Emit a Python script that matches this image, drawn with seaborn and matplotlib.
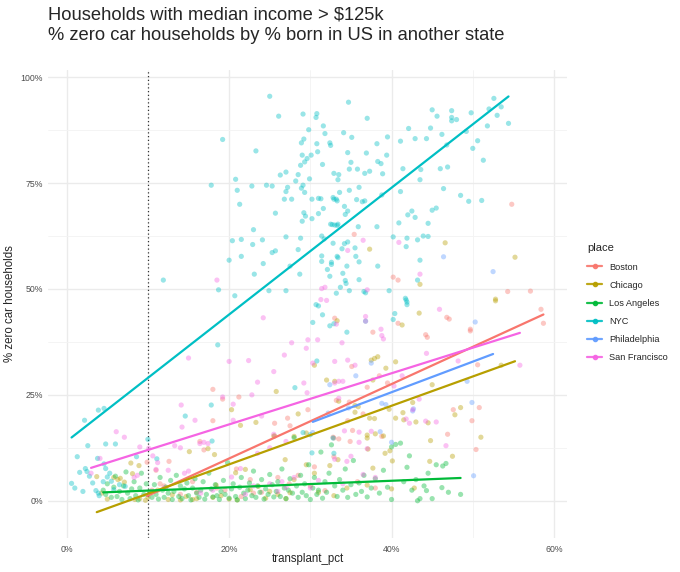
import pandas as pd
import seaborn as sns
import matplotlib.pyplot as plt
from matplotlib.lines import Line2D
from matplotlib.ticker import PercentFormatter, MultipleLocator

# values, in percent
places = ['Boston', 'Chicago', 'Los Angeles', 'NYC', 'Philadelphia', 'San Francisco']
colors = ['#F8766D', '#B79F00', '#00BA38', '#00BFC4', '#619CFF', '#F564E3']

boston_x = [54.8, 35.4, 40.2, 40.8, 54.3, 57.1, 58.4, 58.7, 46.8, 47.1, 49.7, 49.7, 44.2, 44.4, 37.7, 40.8,
            35.1, 50.6, 38.5, 50.8, 34.6, 35.2, 32.9, 33.5, 49.9, 46.9, 38.8, 34.9, 50.4, 33.0, 34.8, 18.0,
            19.2, 18.0, 21.2, 25.6, 27.2, 27.5, 29.7, 9.9, 11.0, 12.6, 32.8, 32.9, 33.2, 16.4, 16.9, 20.9,
            22.6, 27.4, 28.5, 30.0, 31.8, 14.0, 18.5, 24.0, 26.0, 35.8, 38.0, 12.0, 15.5, 21.5, 30.5, 36.5,
            37.0, 39.5, 47.6, 10.5, 16.0, 19.5, 11.5, 23.0]
boston_y = [70.0, 62.9, 52.8, 52.1, 49.4, 49.5, 45.2, 41.9, 43.3, 42.9, 40.5, 40.1, 39.2, 38.6, 39.8, 41.9,
            31.7, 32.1, 29.5, 22.0, 18.9, 16.6, 14.8, 14.6, 18.9, 15.7, 15.2, 14.0, 12.1, 43.1, 23.3, 26.3,
            24.0, 18.9, 24.5, 18.3, 19.5, 17.7, 21.5, 9.1, 7.2, 9.3, 15.0, 10.4, 23.7, 14.0, 12.0, 7.5,
            5.0, 4.0, 6.0, 3.5, 2.4, 1.5, 3.0, 2.0, 5.5, 4.5, 3.0, 3.5, 4.5, 1.0, 8.0, 20.5,
            26.8, 27.8, 21.5, 2.5, 2.0, 2.5, 4.0, 1.8]

chicago_x = [46.6, 55.2, 37.3, 43.5, 52.8, 52.8, 43.4, 33.3, 41.3, 40.5, 37.5, 37.9, 38.3, 39.3, 45.0, 53.5,
             37.7, 35.9, 35.5, 42.6, 39.7, 40.5, 41.4, 41.5, 43.0, 44.5, 47.8, 48.5, 37.3, 37.9, 37.0, 38.0,
             39.0, 37.0, 37.1, 39.2, 39.8, 40.1, 44.7, 44.8, 37.7, 37.0, 40.0, 42.8, 33.4, 32.4, 33.5, 35.5,
             20.3, 21.4, 25.8, 30.5, 32.0, 33.0, 28.5, 29.5, 28.0, 25.5, 17.4, 15.1, 18.2, 7.9, 8.9, 8.1,
             6.3, 7.1, 3.7, 4.3, 5.8, 6.6, 9.7, 8.4, 11.2, 13.0, 14.7, 18.4, 20.8, 22.0, 22.6, 23.6,
             26.9, 28.0, 29.5, 30.5, 27.5, 32.9, 25.6, 23.3, 10.0, 12.5, 16.0, 19.0, 21.0, 24.5, 26.0,
             5.0, 14.0, 15.5, 18.0, 27.0, 31.0, 34.5, 9.0, 20.0, 25.0, 47.5, 51.0]
chicago_y = [60.9, 57.5, 59.4, 51.1, 47.6, 47.2, 44.3, 42.5, 41.5, 32.8, 33.2, 33.6, 34.0, 31.3, 27.4, 32.0,
             28.5, 22.2, 20.9, 23.2, 21.6, 19.5, 20.8, 19.1, 18.6, 18.4, 20.3, 22.0, 19.5, 19.4, 15.5, 15.8,
             15.3, 14.8, 12.2, 11.2, 11.8, 9.4, 9.3, 14.2, 7.7, 3.7, 2.8, 3.0, 9.7, 8.3, 23.5, 22.5,
             21.5, 17.8, 25.8, 32.0, 28.5, 28.2, 20.5, 16.0, 15.2, 15.3, 12.3, 11.6, 10.9, 8.9, 8.3, 6.4,
             5.0, 4.4, 5.7, 1.8, 5.5, 5.3, 0.1, 0.3, 2.5, 1.4, 1.0, 3.7, 6.6, 7.4, 2.6, 3.4,
             9.7, 5.0, 8.5, 6.5, 1.9, 1.2, 15.3, 18.5, 0.8, 0.3, 0.5, 1.2, 0.2, 0.6, 1.5,
             0.4, 0.2, 0.3, 0.8, 0.5, 2.0, 3.0, 0.5, 0.4, 2.2, 10.5, 15.0]

la_x = [4.5, 4.8, 5.0, 5.5, 5.8, 6.0, 6.2, 6.5, 6.8, 7.0, 7.3, 7.5, 7.8, 8.0, 8.3, 8.5,
        8.8, 9.0, 9.2, 9.5, 9.8, 10.2, 10.5, 10.8, 11.0, 11.3, 11.5, 11.8, 12.0, 12.2, 12.5, 12.8,
        13.0, 13.2, 13.5, 13.8, 14.0, 14.2, 14.5, 14.8, 15.0, 15.3, 15.5, 15.8, 16.0, 16.3, 16.5, 16.8,
        17.0, 17.2, 17.5, 17.8, 18.0, 18.3, 18.5, 18.8, 19.0, 19.3, 19.5, 19.8, 20.0, 20.3, 20.5, 20.8,
        21.0, 21.3, 21.5, 21.8, 22.0, 22.3, 22.5, 22.8, 23.0, 23.3, 23.5, 23.8, 24.0, 24.3, 24.5, 24.8,
        25.0, 25.3, 25.5, 25.8, 26.0, 26.3, 26.5, 26.8, 27.0, 27.3, 27.5, 27.8, 28.0, 28.3, 28.5, 28.8,
        29.0, 29.3, 29.5, 29.8, 30.0, 30.3, 30.5, 30.8, 31.0, 31.3, 31.5, 31.8, 32.0, 32.3, 32.6, 33.0,
        33.3, 33.6, 34.0, 34.3, 34.6, 35.0, 35.3, 35.6, 36.0, 36.3, 36.6, 37.0, 37.5, 38.0, 38.5, 39.0,
        39.5, 40.0, 40.0, 40.5, 41.1, 41.5, 41.9, 42.2, 42.5, 43.0, 43.5, 44.0, 44.5, 45.0, 45.5, 46.3,
        46.7, 47.0, 48.5, 44.3, 43.2, 46.2]
la_y = [2.5, 1.5, 4.0, 0.8, 3.2, 5.8, 1.0, 2.2, 0.3, 3.5, 6.8, 1.8, 0.5, 2.8, 4.5, 1.2,
        0.2, 3.0, 6.5, 1.5, 4.0, 2.0, 0.8, 3.8, 1.5, 0.4, 5.5, 2.5, 0.8, 3.2, 1.8, 4.8,
        0.3, 2.2, 6.0, 1.0, 3.5, 0.5, 2.8, 4.2, 1.2, 0.2, 3.0, 5.2, 1.8, 0.8, 2.5, 4.5,
        0.4, 1.5, 6.5, 2.8, 0.9, 3.8, 1.2, 0.3, 2.2, 4.8, 1.5, 9.0, 0.6, 2.8, 4.0, 1.0,
        0.2, 3.2, 5.5, 1.8, 0.5, 2.5, 4.2, 1.2, 7.0, 0.8, 3.5, 2.0, 5.0, 0.4, 2.8, 1.5,
        6.2, 3.8, 0.9, 2.2, 4.5, 1.0, 7.5, 3.0, 0.5, 2.5, 5.2, 1.8, 14.9, 3.5, 0.8, 6.0,
        2.0, 4.0, 1.2, 8.5, 0.3, 3.0, 5.5, 1.5, 2.5, 11.5, 0.6, 4.5, 2.0, 6.5, 13.2, 3.5,
        1.0, 5.0, 2.5, 7.5, 0.8, 3.8, 9.5, 1.5, 4.2, 2.2, 6.0, 0.9, 3.0, 5.2, 1.8, 7.2,
        3.2, 12.7, 0.3, 13.3, 13.6, 4.5, 7.9, 10.6, 2.5, 5.0, 0.5, 3.5, 6.5, 0.5, 8.5, 8.2,
        8.8, 2.0, 1.5, 2.4, 0.0, 3.1]

nyc_x = [11.9, 19.2, 17.8, 18.7, 25.0, 26.1, 29.1, 30.8, 30.7, 20.8, 21.0, 21.3, 22.8, 23.3, 24.6, 25.3,
         26.3, 27.0, 27.2, 27.0, 26.8, 27.7, 28.2, 28.5, 28.9, 29.1, 29.3, 28.9, 29.2, 29.0, 28.8, 29.3,
         29.8, 30.8, 30.1, 30.9, 29.6, 31.6, 32.4, 31.8, 31.5, 31.3, 29.9, 30.2, 31.0, 29.2, 29.4, 29.0,
         30.2, 31.0, 31.6, 32.9, 32.8, 33.2, 33.4, 32.5, 33.0, 33.4, 25.7, 23.0, 20.4, 21.5, 22.9, 24.1,
         20.0, 21.5, 23.1, 24.2, 25.3, 25.7, 27.0, 28.8, 28.5, 27.5, 28.7, 20.7, 24.9, 27.0, 31.4, 31.7,
         31.4, 31.4, 32.6, 32.1, 32.4, 33.4, 31.0,
         34.7, 37.0, 45.0, 47.4, 47.4, 47.4, 54.4, 42.1, 34.1, 35.1, 41.1, 42.9, 44.3, 38.2, 39.5, 32.5,
         34.6, 36.9, 39.4, 50.0, 51.3, 35.0, 34.8, 35.8, 37.3, 36.7, 38.3, 38.7, 41.4, 43.6, 46.0, 46.9,
         33.5, 38.9, 43.5, 36.0, 34.8, 33.6, 41.1, 32.9, 33.3, 35.7, 36.4, 36.7, 38.8, 46.4, 48.5, 49.5,
         51.1, 34.2, 34.6, 34.3, 42.0, 42.5, 42.9, 45.0, 45.5, 44.5, 32.7, 33.3, 35.9, 38.2, 40.9, 40.2,
         41.9, 43.2, 43.9, 44.5, 32.8, 34.2, 34.6, 33.9, 35.5, 35.6, 33.3, 32.6, 34.5, 36.0, 41.8, 38.3,
         34.0, 34.3, 34.4, 36.0, 33.7, 34.8, 36.6, 36.8, 33.2, 39.7, 43.5, 43.2, 41.7, 41.9,
         0.6, 1.3, 1.6, 2.3, 2.5, 2.2, 2.6, 2.8, 3.6, 3.9, 3.9, 4.6, 3.8, 4.8, 6.0, 4.6,
         4.8, 5.0, 4.5, 5.5, 5.3, 8.6, 10.0, 11.1, 14.6, 18.6, 17.9, 17.8, 28.1, 29.1, 30.0, 30.2,
         30.8, 30.3, 31.5, 30.7, 32.9, 32.8, 32.9, 32.4, 34.5, 36.8, 40.2, 40.4, 41.9, 41.8,
         44.8, 46.2, 48.0, 49.2, 52.0, 53.0, 50.6, 45.6, 1.0, 3.2, 5.8, 7.2,
         53.5, 51.8, 49.8, 46.8, 2.0, 6.5, 52.6, 4.0]
nyc_y = [52.1, 85.3, 74.5, 49.8, 95.5, 90.8, 91.3, 91.4, 90.5, 75.9, 73.3, 70.0, 74.3, 82.6, 74.5, 74.3,
         76.9, 77.6, 74.0, 73.0, 71.2, 71.2, 75.5, 77.0, 73.8, 74.5, 72.8, 84.5, 85.4, 81.6, 79.2, 80.0,
         87.6, 84.3, 81.6, 82.4, 80.8, 88.5, 84.5, 86.7, 79.4, 71.3, 76.0, 71.2, 71.4, 68.0, 67.2, 66.0,
         66.6, 67.8, 69.0, 77.3, 71.6, 71.2, 75.8, 65.3, 65.1, 65.3, 67.9, 64.0, 61.4, 61.7, 60.5, 61.6,
         56.8, 57.7, 53.5, 56.0, 58.6, 59.0, 62.3, 62.0, 59.3, 55.4, 53.5, 48.4, 49.6, 49.6, 62.5, 61.8,
         57.8, 56.5, 55.8, 54.6, 53.0, 57.4, 46.0,
         94.1, 90.3, 92.3, 92.1, 90.5, 89.7, 89.1, 87.9, 86.9, 85.8, 84.9, 85.5, 85.5, 84.3, 85.9, 83.9,
         82.2, 82.1, 81.6, 83.2, 80.4, 79.9, 78.3, 78.3, 77.8, 77.3, 80.1, 79.6, 78.4, 78.2, 78.4, 78.8,
         77.0, 77.2, 75.8, 74.0, 73.3, 72.8, 73.0, 71.2, 70.8, 71.1, 70.6, 70.8, 72.2, 73.7, 72.1, 70.7,
         70.9, 69.5, 68.4, 67.6, 67.5, 68.4, 66.9, 68.6, 69.1, 65.5, 65.2, 65.0, 64.7, 64.7, 65.6, 62.3,
         62.0, 61.6, 62.5, 62.4, 60.8, 60.7, 61.1, 59.5, 59.7, 57.7, 57.7, 56.3, 55.4, 56.4, 60.0, 55.4,
         53.7, 52.0, 51.3, 52.2, 50.4, 49.6, 49.4, 49.1, 49.0, 49.6, 56.8, 52.1, 47.8, 46.9,
         4.1, 10.4, 6.7, 7.6, 6.9, 19.0, 13.0, 5.8, 2.4, 1.8, 21.4, 21.8, 10.0, 13.4, 13.4, 8.7,
         7.6, 5.6, 4.5, 4.6, 6.5, 10.4, 14.5, 9.9, 20.0, 36.8, 14.1, 22.6, 26.7, 16.1, 15.6, 11.3,
         33.0, 42.1, 43.9, 46.3, 41.8, 14.8, 11.2, 41.3, 39.8, 42.4, 42.8, 44.2, 46.3, 47.4,
         88.0, 86.5, 90.0, 87.2, 92.5, 91.0, 85.0, 90.8, 3.0, 4.2, 2.6, 3.4,
         93.0, 88.5, 91.6, 84.0, 2.2, 3.8, 95.0, 1.2]

philly_x = [46.4, 52.5, 50.3, 49.3, 49.9, 42.7, 42.6, 38.8, 39.3, 37.5, 35.6, 38.6, 40.0, 50.1, 34.7, 30.3,
            32.4, 32.2]
philly_y = [57.6, 54.1, 42.2, 28.2, 23.2, 21.7, 21.2, 23.0, 22.7, 32.5, 29.5, 16.3, 13.8, 5.9, 21.9, 16.1,
            27.4, 20.7]

sf_x = [18.5, 31.4, 31.8, 31.3, 36.5, 34.6, 40.9, 43.5, 37.0, 45.9, 36.8, 36.8, 38.7, 38.8, 39.0, 44.3,
        48.2, 55.8, 33.0, 34.6, 35.5, 33.9, 33.2, 33.5, 34.0, 33.0, 41.3, 40.3, 43.4, 42.6, 41.8, 42.2,
        44.2, 45.5, 46.7, 34.2, 36.0, 37.5, 36.0, 37.0, 35.0, 34.5, 33.0, 33.5, 15.0, 20.0, 22.4, 24.2,
        26.8, 27.7, 29.5, 29.2, 29.6, 29.7, 30.9, 30.3, 32.0, 14.1, 14.2, 15.8, 19.2, 20.5, 22.8, 23.5,
        20.5, 24.0, 25.5, 25.5, 27.0, 25.0, 16.4, 16.9, 17.4, 13.3, 14.0, 6.1, 7.1, 9.0, 10.1, 10.6,
        3.0, 4.1, 8.3, 8.7, 11.2, 12.5, 11.0, 14.5, 15.0, 21.4, 20.3, 23.0, 25.0, 27.0, 23.5, 26.5,
        28.0, 12.0, 18.0, 22.0, 30.0, 34.0, 38.0, 16.5, 26.0, 31.0, 36.5]
sf_y = [52.1, 50.1, 50.4, 47.5, 61.5, 59.1, 61.0, 53.5, 49.8, 45.2, 43.5, 42.4, 40.5, 39.0, 38.2, 34.8,
        33.0, 32.0, 32.9, 33.2, 32.0, 37.3, 41.7, 28.2, 28.2, 27.8, 29.5, 27.1, 24.0, 21.5, 19.3, 18.3,
        18.8, 18.6, 13.0, 16.5, 16.2, 16.4, 13.8, 12.3, 10.5, 9.3, 9.8, 24.2, 33.7, 32.9, 33.1, 43.2,
        34.4, 37.3, 36.0, 27.8, 25.5, 38.0, 38.0, 32.5, 47.3, 22.6, 17.4, 19.0, 24.5, 22.8, 25.0, 28.0,
        19.0, 20.0, 30.5, 15.7, 14.0, 12.5, 13.5, 13.8, 13.5, 13.0, 12.5, 16.3, 15.0, 12.7, 12.4, 10.6,
        6.5, 10.0, 5.5, 6.0, 9.0, 7.2, 7.4, 6.5, 7.0, 7.6, 5.6, 3.5, 4.0, 3.2, 11.2, 4.5,
        5.5, 3.0, 2.5, 1.5, 3.0, 4.0, 5.5, 1.8, 2.2, 4.8, 6.2]

xs = [boston_x, chicago_x, la_x, nyc_x, philly_x, sf_x]
ys = [boston_y, chicago_y, la_y, nyc_y, philly_y, sf_y]
frames = [pd.DataFrame({'transplant_pct': x, 'zero_car': y, 'place': p})
          for x, y, p in zip(xs, ys, places)]
df = pd.concat(frames, ignore_index=True)
palette = dict(zip(places, colors))

sns.set_style('white')
plt.rcParams['font.family'] = ['Liberation Sans', 'DejaVu Sans']

fig = plt.figure(figsize=(6.8, 5.72), dpi=100)
ax = fig.add_axes([0.0706, 0.0594, 0.7632, 0.8182])

sns.scatterplot(data=df, x='transplant_pct', y='zero_car', hue='place', palette=palette,
                s=14, alpha=0.4, linewidth=0, legend=False, ax=ax, zorder=3)
for p in places:
    sub = df[df['place'] == p]
    sns.regplot(data=sub, x='transplant_pct', y='zero_car', scatter=False, ci=None,
                color=palette[p], line_kws={'linewidth': 1.6, 'zorder': 4}, ax=ax)

ax.axvline(10, color='#333333', linestyle=(0, (1, 2)), linewidth=0.9, zorder=2)

ax.set_xlim(-2.3, 61.6)
ax.set_ylim(-8.8, 101.7)
ax.xaxis.set_major_locator(MultipleLocator(20))
ax.xaxis.set_minor_locator(MultipleLocator(10))
ax.yaxis.set_major_locator(MultipleLocator(25))
ax.yaxis.set_minor_locator(MultipleLocator(12.5))
ax.xaxis.set_major_formatter(PercentFormatter(100, decimals=0))
ax.yaxis.set_major_formatter(PercentFormatter(100, decimals=0))
ax.grid(which='major', color='#EBEBEB', linewidth=1.0, zorder=0)
ax.grid(which='minor', color='#F3F3F3', linewidth=0.6, zorder=0)
ax.set_axisbelow(True)
for s in ax.spines.values():
    s.set_visible(False)
ax.tick_params(axis='x', which='both', length=0, labelsize=6.3, labelcolor='#4D4D4D', pad=5)
ax.tick_params(axis='y', which='both', length=0, labelsize=6.3, labelcolor='#4D4D4D', pad=3.8)
ax.set_xlabel('transplant_pct', fontsize=8.3)
ax.set_ylabel('% zero car households', fontsize=8.3)
ax.xaxis.set_label_coords(0.5, -0.032)
ax.yaxis.set_label_coords(-0.062, 0.5)

fig.text(0.071, 1 - 19.3 / 572, 'Households with median income > $125k',
         fontsize=13.2, va='baseline', ha='left')
fig.text(0.071, 1 - 40.0 / 572, '% zero car households by % born in US in another state',
         fontsize=13.2, va='baseline', ha='left')

handles = [Line2D([0], [0], color=c, linewidth=1.6, marker='o', markersize=3.0, alpha=0.9)
           for c in colors]
leg = fig.legend(handles, places, title='place', loc='upper left', bbox_to_anchor=(0.858, 0.581),
                 frameon=False, fontsize=6.6, title_fontsize=8, handlelength=1.65,
                 labelspacing=1.0, handletextpad=0.75, borderaxespad=0)
leg._legend_box.align = 'left'

fig.savefig('out.png', dpi=100)
